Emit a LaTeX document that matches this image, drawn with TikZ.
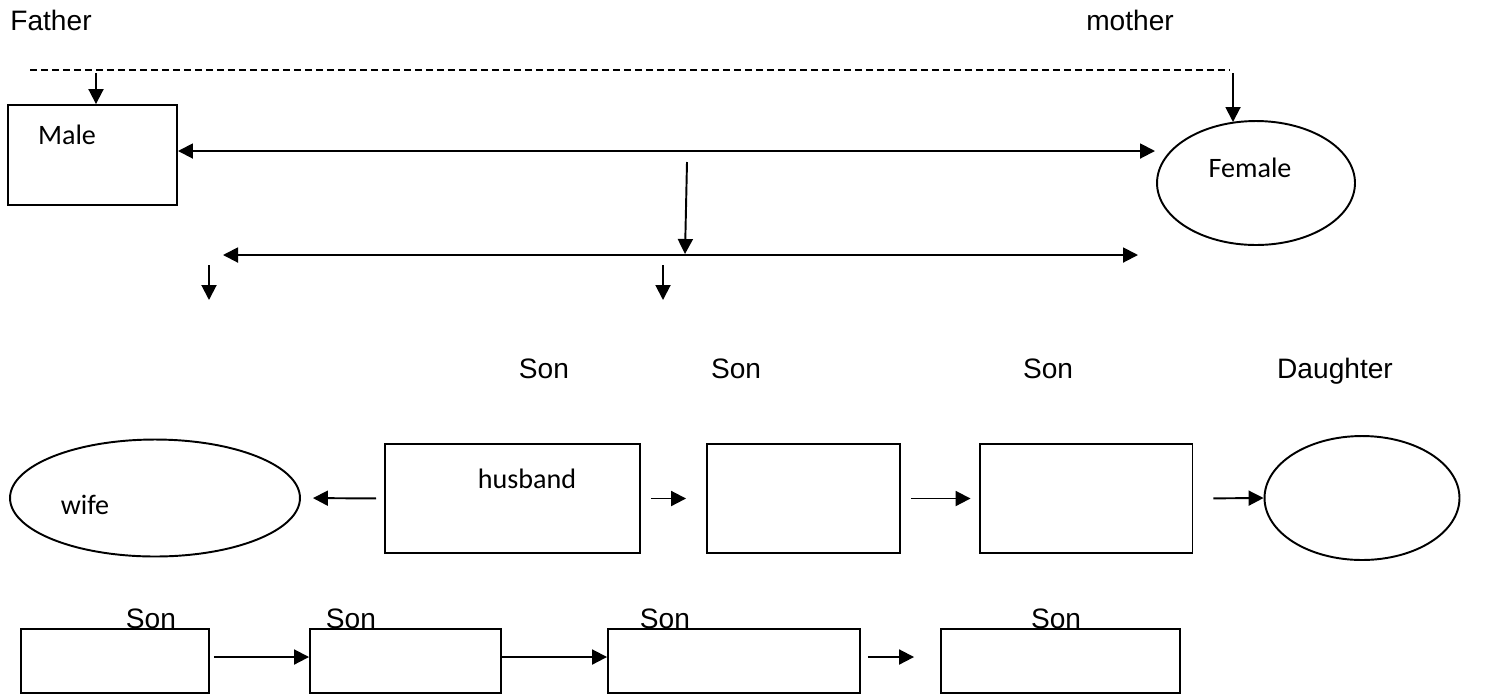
\documentclass[tikz,border=0pt]{standalone}
\usepackage{fontspec}
\setmainfont{Liberation Sans}
\newfontfamily\calibri{Carlito}
\usetikzlibrary{arrows.meta,shapes.geometric}
\tikzset{
  box/.style={draw,line width=1.1pt,inner sep=0pt},
  oval/.style={draw,ellipse,line width=1.1pt,inner sep=0pt},
  arr/.style={line width=1.1pt,-{Triangle[length=3mm,width=3mm]}},
  darr/.style={line width=1.1pt,{Triangle[length=3mm,width=3mm]}-{Triangle[length=3mm,width=3mm]}},
  word/.style={font=\fontsize{16}{19}\selectfont,inner sep=0pt,anchor=base},
  cword/.style={font=\calibri\fontsize{16}{19}\selectfont,inner sep=0pt}
}
\begin{document}
\begin{tikzpicture}[x=0.02cm,y=-0.02cm]
\useasboundingbox (0,0) rectangle (1494,698);

% Les parents
\node[word] (father) at (51,30) {Father};
\node[word] (mother) at (1130,30) {mother};
\node[box,minimum width=3.38cm,minimum height=2cm] (male) at (92.5,155) {};
\node[cword] (maletxt) at (67,135) {Male};
\node[oval,minimum width=3.96cm,minimum height=2.48cm] (female) at (1256,183) {};
\node[cword] (femaletxt) at (1250,168) {Female};

% La ligne pointillee
\coordinate (dl) at (30,70);
\coordinate (dr) at (1230,70);
\draw[line width=1.1pt,dash pattern=on 0.15cm off 0.07cm] (dl) -- (dr);
\coordinate (ftap) at (96,73);
\coordinate (mtap) at (1233,73);
\draw[arr] (ftap) -- (ftap |- male.north);
\draw[arr] (mtap) -- (1233,122);

% Les fleches du couple
\coordinate (c1l) at (178,151);
\coordinate (c1r) at (1155,151);
\draw[darr] (c1l) -- (c1r);
\coordinate (kt) at (687,162);
\coordinate (kb) at (685,254);
\draw[arr] (kt) -- (kb);
\coordinate (c2l) at (223,255);
\coordinate (c2r) at (1138,255);
\draw[darr] (c2l) -- (c2r);
\coordinate (ka) at (209,265);
\coordinate (kc) at (663,265);
\draw[arr] (ka) -- (209,300);
\draw[arr] (kc) -- (663,300);

% Les enfants
\node[word] (son1) at (544,378) {Son};
\node[word] (son2) at (736,378) {Son};
\node[word] (son3) at (1048,378) {Son};
\node[word] (dau) at (1335,378) {Daughter};

\node[oval,minimum width=5.8cm,minimum height=2.34cm] (wife) at (155,498) {};
\node[cword] (wifetxt) at (85,505) {wife};
\node[box,minimum width=5.1cm,minimum height=2.18cm] (husband) at (512.5,498.5) {};
\node[cword] (husbandtxt) at (527,479) {husband};
\node[box,minimum width=3.86cm,minimum height=2.18cm] (kid2) at (803.5,498.5) {};
\node[box,minimum width=4.26cm,minimum height=2.18cm] (kid3) at (1086,498.5) {};
\node[oval,minimum width=3.9cm,minimum height=2.48cm] (kid4) at (1362,498) {};

\draw[arr,shorten <=0.16cm,shorten >=0.24cm] (husband.west) -- (wife.east);
\draw[arr,shorten <=0.2cm,shorten >=0.4cm] (husband.east) -- (kid2.west);
\draw[arr,shorten <=0.2cm,shorten >=0.16cm] (kid2.east) -- (kid3.west);
\draw[arr,shorten <=0.4cm] (kid3.east) -- (kid4.west);

% Les petits-enfants
\node[word] (gson1) at (151,628) {Son};
\node[word] (gson2) at (351,628) {Son};
\node[word] (gson3) at (665,628) {Son};
\node[word] (gson4) at (1056,628) {Son};
\node[box,minimum width=3.76cm,minimum height=1.28cm] (g1) at (115,661) {};
\node[box,minimum width=3.82cm,minimum height=1.28cm] (g2) at (405.5,661) {};
\node[box,minimum width=5.04cm,minimum height=1.28cm] (g3) at (734,661) {};
\node[box,minimum width=4.78cm,minimum height=1.28cm] (g4) at (1060.5,661) {};

\draw[arr,shorten <=0.08cm] ([yshift=0.08cm]g1.east) -- ([yshift=0.08cm]g2.west);
\draw[arr] ([yshift=0.08cm]g2.east) -- ([yshift=0.08cm]g3.west);
\draw[arr,shorten <=0.14cm,shorten >=0.52cm] ([yshift=0.08cm]g3.east) -- ([yshift=0.08cm]g4.west);
\end{tikzpicture}
\end{document}
